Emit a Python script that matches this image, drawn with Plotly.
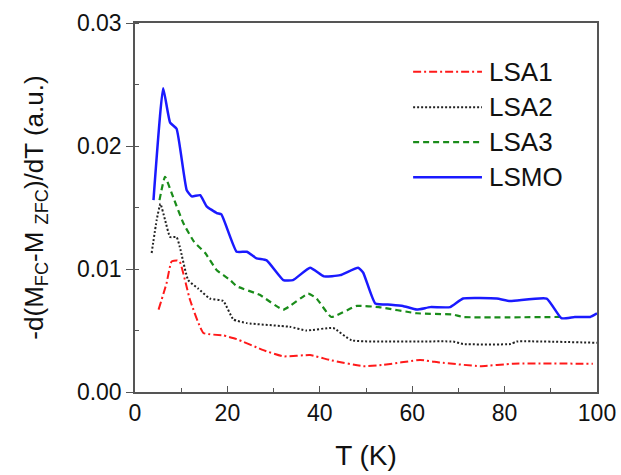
import plotly.graph_objects as go

# LSMO (blue solid)
t_lsmo = [4.0, 6.1, 7.6, 9.0, 11.2, 12.3, 14.1, 15.5, 17.7, 18.7, 22.0, 24.2, 26.3, 28.5, 32.1, 34.2,
          37.9, 40.9, 44.4, 48.3, 49.4, 52.0, 55.4, 58.0, 61.0, 63.9, 68.2, 71.0, 78.3, 81.2, 89.1,
          92.3, 95.2, 98.5, 100.0]
v_lsmo = [0.0156, 0.0247, 0.0219, 0.0214, 0.0164, 0.0159, 0.0160, 0.0151, 0.01455, 0.01444, 0.0114,
          0.0114, 0.01087, 0.0107, 0.0091, 0.0091, 0.0101, 0.0094, 0.0095, 0.0101, 0.0097, 0.0072,
          0.0071, 0.0070, 0.0067, 0.0069, 0.0069, 0.0076, 0.0076, 0.0074, 0.0076, 0.0060, 0.0061,
          0.0061, 0.0064]

# LSA3 (green dashed)
t_lsa3 = [5.3, 6.5, 8.3, 10.5, 12.8, 15.2, 17.7, 20.6, 22.0, 27.0, 32.1, 37.5, 39.3, 42.5, 48.0,
          52.8, 61.0, 68.8, 71.0, 92.0]
v_lsa3 = [0.0156, 0.0175, 0.0158, 0.0137, 0.0122, 0.0113, 0.0099, 0.0091, 0.0086, 0.0079, 0.0067,
          0.0080, 0.0076, 0.0061, 0.0070, 0.0069, 0.0064, 0.0063, 0.0061, 0.0061]

# LSA2 (black dotted)
t_lsa2 = [3.6, 4.7, 5.5, 6.5, 7.6, 9.0, 9.7, 11.5, 13.7, 16.2, 19.1, 21.3, 24.2, 33.5, 37.1, 42.9,
          46.9, 68.9, 71.0, 81.3, 82.6, 100.0]
v_lsa2 = [0.0113, 0.0140, 0.0153, 0.0140, 0.0126, 0.0126, 0.0118, 0.0091, 0.0084, 0.0076, 0.0074,
          0.0059, 0.0056, 0.0053, 0.0050, 0.0052, 0.0042, 0.0041, 0.0039, 0.0039, 0.0041, 0.0040]

# LSA1 (red dash-dot)
t_lsa1 = [5.1, 6.8, 7.9, 9.0, 9.7, 11.9, 14.8, 19.1, 22.0, 27.8, 32.1, 37.9, 42.2, 49.4, 53.7,
          61.7, 66.0, 74.7, 81.9, 99.1]
v_lsa1 = [0.0067, 0.0088, 0.0106, 0.0107, 0.0106, 0.0075, 0.0048, 0.0046, 0.0043, 0.0034, 0.0029,
          0.0030, 0.0026, 0.0021, 0.0022, 0.0026, 0.0024, 0.0021, 0.0023, 0.0023]

x_ticks = [0, 20, 40, 60, 80, 100]
y_ticks = [0.00, 0.01, 0.02, 0.03]
y_tick_labels = ["0.00", "0.01", "0.02", "0.03"]

names = ["LSA1", "LSA2", "LSA3", "LSMO"]
colors = ["#ff1a1a", "#222222", "#1a8c1a", "#1a1aff"]
dashes = ["8px,3px,2px,3px", "2px,2px", "6px,4px", "solid"]
widths = [2, 2, 2.2, 2.5]
series = [(t_lsa1, v_lsa1), (t_lsa2, v_lsa2), (t_lsa3, v_lsa3), (t_lsmo, v_lsmo)]

FONT = "Liberation Sans, Arial"

fig = go.Figure()
for (tx, vy), nm, c, d, w in zip(series, names, colors, dashes, widths):
    fig.add_trace(go.Scatter(x=tx, y=vy, mode="lines", name=nm,
                             line=dict(color=c, dash=d, width=w, shape="spline", smoothing=0.4),
                             showlegend=False))

# custom legend (long line samples)
leg_y = [0.868, 0.772, 0.677, 0.582]
for nm, c, d, w, ly in zip(names, colors, dashes, widths, leg_y):
    fig.add_shape(type="line", xref="paper", yref="paper", x0=0.602, x1=0.751, y0=ly, y1=ly,
                  line=dict(color=c, dash=d, width=w))
    fig.add_annotation(xref="paper", yref="paper", x=0.762, y=ly, text=nm, showarrow=False,
                       xanchor="left", yanchor="middle",
                       font=dict(family=FONT, size=26, color="#111"))

axis_common = dict(showline=True, linecolor="#555", linewidth=1.5, mirror=True,
                   showgrid=False, zeroline=False, tickcolor="#555",
                   tickfont=dict(family=FONT, size=23, color="#111"))

fig.update_xaxes(range=[0, 100], tickvals=x_ticks, ticks="inside", ticklen=6,
                 minor=dict(dtick=10, ticks="inside", ticklen=4, tickcolor="#555"),
                 title=dict(text="T (K)", font=dict(family=FONT, size=28, color="#111"),
                            standoff=20),
                 automargin=False,
                 **axis_common)
fig.update_yaxes(range=[0, 0.03], tickvals=y_ticks, ticktext=y_tick_labels, ticks="outside",
                 ticklen=7,
                 minor=dict(dtick=0.005, ticks="inside", ticklen=4, tickcolor="#555"),
                 title=dict(text="-d(M<sub>FC</sub>-M <sub>ZFC</sub>)/dT (a.u.)",
                            font=dict(family=FONT, size=26, color="#111"),
                            standoff=26),
                 automargin=False,
                 **axis_common)

fig.update_layout(width=621, height=475, margin=dict(l=135, r=24, t=23, b=83),
                  plot_bgcolor="white", paper_bgcolor="white", showlegend=False)

fig.write_html("out.html")
